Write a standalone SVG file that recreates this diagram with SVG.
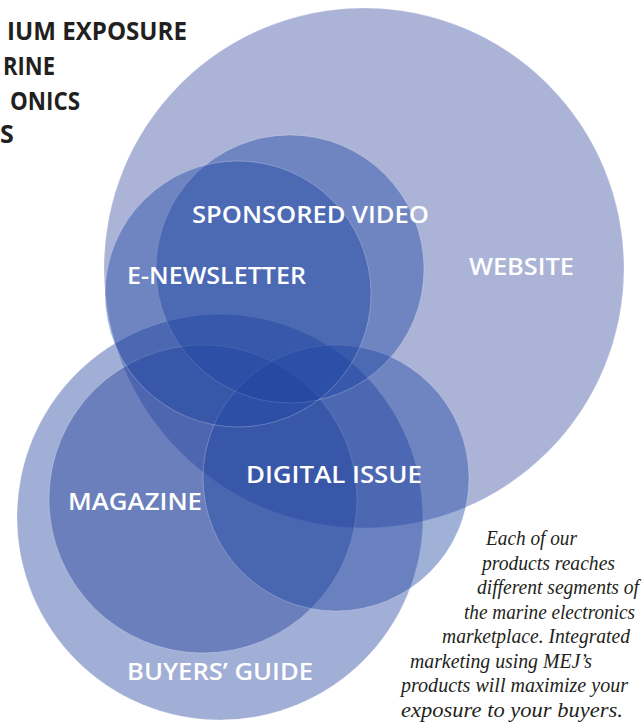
<svg xmlns="http://www.w3.org/2000/svg" width="644" height="723" viewBox="0 0 644 723">
<style>
.c{stroke:#ffffff;stroke-opacity:0.35;stroke-width:0.7}
.web{fill:rgb(35,55,150);fill-opacity:0.38}
.p{fill:rgb(30,62,155);fill-opacity:0.42}
.b{fill:rgb(28,70,162);fill-opacity:0.42}
.lbl{font-family:"Open Sans","Noto Sans",sans-serif;font-weight:600;font-size:24px;fill:#ffffff}
.title{font-family:"Open Sans","Noto Sans",sans-serif;font-weight:700;font-size:25px;fill:#231f20}
.body{font-family:"Liberation Serif","Times New Roman",serif;font-style:italic;font-size:20px;fill:#231f20}
</style>
<rect width="644" height="723" fill="#ffffff"/>
<g id="title">
<text class="title" x="7" y="40" textLength="180" lengthAdjust="spacingAndGlyphs">IUM EXPOSURE</text>
<text class="title" x="3" y="75" textLength="52" lengthAdjust="spacingAndGlyphs">RINE</text>
<text class="title" x="10" y="110" textLength="70" lengthAdjust="spacingAndGlyphs">ONICS</text>
<text class="title" x="0" y="143">S</text>
</g>
<g id="circles">
<g id="website"><circle class="c web" cx="364" cy="268" r="260"/></g>
<g id="buyers-guide"><circle class="c p" cx="220" cy="517" r="203"/></g>
<g id="magazine"><circle class="c p" cx="203" cy="499" r="154"/></g>
<g id="digital-issue"><circle class="c b" cx="336" cy="478" r="133"/></g>
<g id="sponsored-video"><circle class="c b" cx="290" cy="269" r="134"/></g>
<g id="e-newsletter"><circle class="c b" cx="238" cy="294" r="133"/></g>
</g>
<g id="labels">
<text id="label-sponsored-video" class="lbl" x="192" y="223" textLength="237" lengthAdjust="spacingAndGlyphs">SPONSORED VIDEO</text>
<text id="label-e-newsletter" class="lbl" x="127" y="284" textLength="179" lengthAdjust="spacingAndGlyphs">E-NEWSLETTER</text>
<text id="label-website" class="lbl" x="469" y="275" textLength="105" lengthAdjust="spacingAndGlyphs">WEBSITE</text>
<text id="label-digital-issue" class="lbl" x="246" y="483" textLength="176" lengthAdjust="spacingAndGlyphs">DIGITAL ISSUE</text>
<text id="label-magazine" class="lbl" x="68" y="510" textLength="134" lengthAdjust="spacingAndGlyphs">MAGAZINE</text>
<text id="label-buyers-guide" class="lbl" x="127" y="680" textLength="186" lengthAdjust="spacingAndGlyphs">BUYERS’ GUIDE</text>
</g>
<g id="blurb">
<text class="body" x="486" y="545" textLength="91" lengthAdjust="spacingAndGlyphs">Each of our</text>
<text class="body" x="482" y="569.5" textLength="133" lengthAdjust="spacingAndGlyphs">products reaches</text>
<text class="body" x="477" y="594" textLength="162" lengthAdjust="spacingAndGlyphs">different segments of</text>
<text class="body" x="464" y="618.5" textLength="171" lengthAdjust="spacingAndGlyphs">the marine electronics</text>
<text class="body" x="442" y="643" textLength="188" lengthAdjust="spacingAndGlyphs">marketplace. Integrated</text>
<text class="body" x="410" y="667.5" textLength="182" lengthAdjust="spacingAndGlyphs">marketing using MEJ’s</text>
<text class="body" x="401" y="692" textLength="227" lengthAdjust="spacingAndGlyphs">products will maximize your</text>
<text class="body" x="401" y="716.5" textLength="222" lengthAdjust="spacingAndGlyphs">exposure to your buyers.</text>
</g>
</svg>
